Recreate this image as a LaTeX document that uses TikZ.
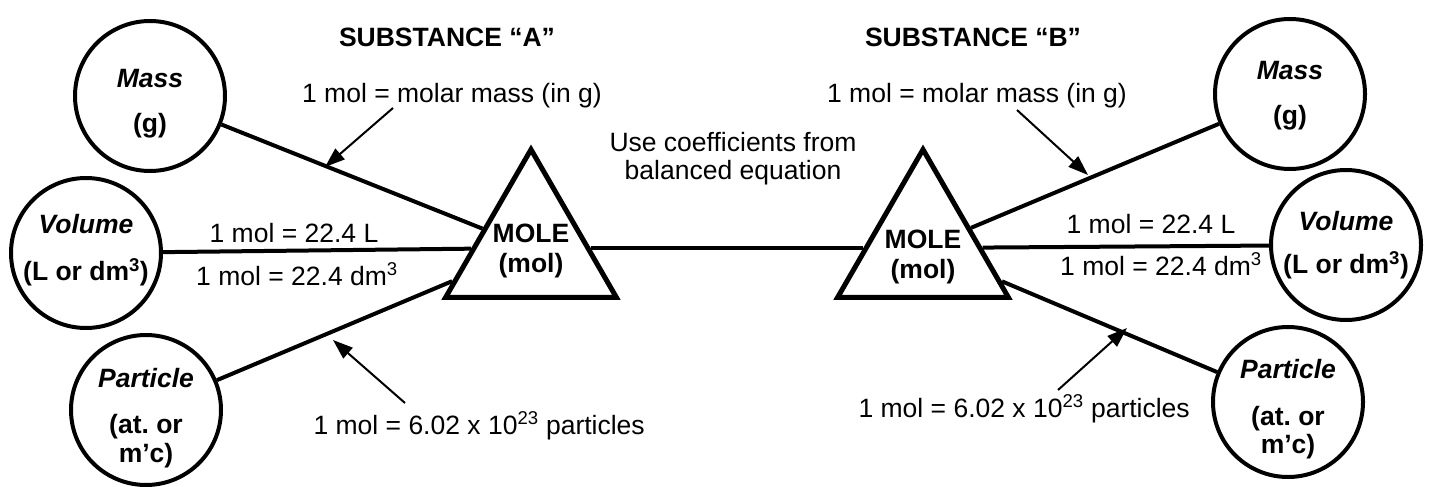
\documentclass[tikz,border=0pt]{standalone}
\usepackage{fontspec}
\setmainfont{Liberation Sans}
\usetikzlibrary{arrows.meta,shapes.geometric}

\begin{document}
\begin{tikzpicture}[x=1pt,y=-1pt,
                    >={Triangle[length=20pt,width=14pt]},
                    every node/.style={font=\fontsize{26.5}{30}\selectfont},
                    qty/.style={circle,draw,line width=4pt,minimum size=150pt,inner sep=0pt},
                    mole/.style={regular polygon,regular polygon sides=3,draw,
                                 line width=5pt,minimum size=197pt,inner sep=0pt},
                    inside/.style={align=center,inner sep=0pt,
                                   font=\fontsize{26.5}{30}\selectfont\bfseries},
                    link/.style={line width=4pt},
                    pointer/.style={->,line width=2pt}]
\useasboundingbox (0,0) rectangle (1445,487);
% substance A
\node[qty, label={[inside,yshift=-8pt]center:{{\itshape Mass}\\[15pt](g)}}]
  (massA) at (150,96) {};
\node[qty, label={[inside,yshift=3pt]center:{{\itshape Volume}\\[17pt](L or dm\textsuperscript{3})}}]
  (volA) at (86,253) {};
\node[qty, label={[inside,yshift=-8pt]center:{{\itshape Particle}\\[16pt](at.\ or\\[-1pt]m’c)}}]
  (partA) at (146,410) {};
\node[mole, label={[inside,yshift=-3pt]center:{MOLE\\(mol)}}] (moleA) at (531,248) {};
% substance B
\node[qty, label={[inside,yshift=-2pt]center:{{\itshape Mass}\\[15pt](g)}}]
  (massB) at (1290,94) {};
\node[qty, label={[inside]center:{{\itshape Volume}\\[13pt](L or dm\textsuperscript{3})}}]
  (volB) at (1346,245) {};
\node[qty, label={[inside,yshift=-7pt]center:{{\itshape Particle}\\[17pt](at.\ or\\[-2pt]m’c)}}]
  (partB) at (1288,402) {};
\node[mole, label={[inside,yshift=-9pt]center:{MOLE\\(mol)}}] (moleB) at (923,248) {};
\draw[link] (massA) -- (moleA);
\draw[link] (volA)  -- (moleA);
\draw[link] (partA) -- (moleA);
\draw[link] (moleA) -- (moleB);
\draw[link] (moleB) -- (massB);
\draw[link] (moleB) -- (volB);
\draw[link] (moleB) -- (partB);
% labels
\node[anchor=base,font=\fontsize{26.5}{30}\selectfont\bfseries] (subA) at (447,47) {SUBSTANCE “A”};
\node[anchor=base,font=\fontsize{26.5}{30}\selectfont\bfseries] (subB) at (973,47) {SUBSTANCE “B”};
\node[anchor=base] (molarA) at (452,102) {1 mol = molar mass (in g)};
\node[anchor=base] (molarB) at (977,102) {1 mol = molar mass (in g)};
\node[align=center] (coef) at (733,159) {Use coefficients from\\[-2pt]balanced equation};
\node[anchor=base] (litreA) at (294,242)  {1 mol = 22.4 L};
\node[anchor=base] (dmA)    at (297,285)  {1 mol = 22.4 dm\textsuperscript{3}};
\node[anchor=base] (litreB) at (1151,233) {1 mol = 22.4 L};
\node[anchor=base] (dmB)    at (1161,275) {1 mol = 22.4 dm\textsuperscript{3}};
\node[anchor=base west] (avoA) at (310,434) {1 mol = 6.02 x 10\textsuperscript{23} particles};
\node[anchor=base west] (avoB) at (855,417) {1 mol = 6.02 x 10\textsuperscript{23} particles};
% pointers
\coordinate (tailMA) at (393,108);  \coordinate (tipMA) at (325,167);
\coordinate (tailPA) at (405,403);  \coordinate (tipPA) at (333,340);
\coordinate (tailMB) at (1017,110); \coordinate (tipMB) at (1088,175);
\coordinate (tailPB) at (1058,390); \coordinate (tipPB) at (1127,328);
\draw[pointer] (tailMA) -- (tipMA);
\draw[pointer] (tailPA) -- (tipPA);
\draw[pointer] (tailMB) -- (tipMB);
\draw[pointer] (tailPB) -- (tipPB);
\end{tikzpicture}
\end{document}
